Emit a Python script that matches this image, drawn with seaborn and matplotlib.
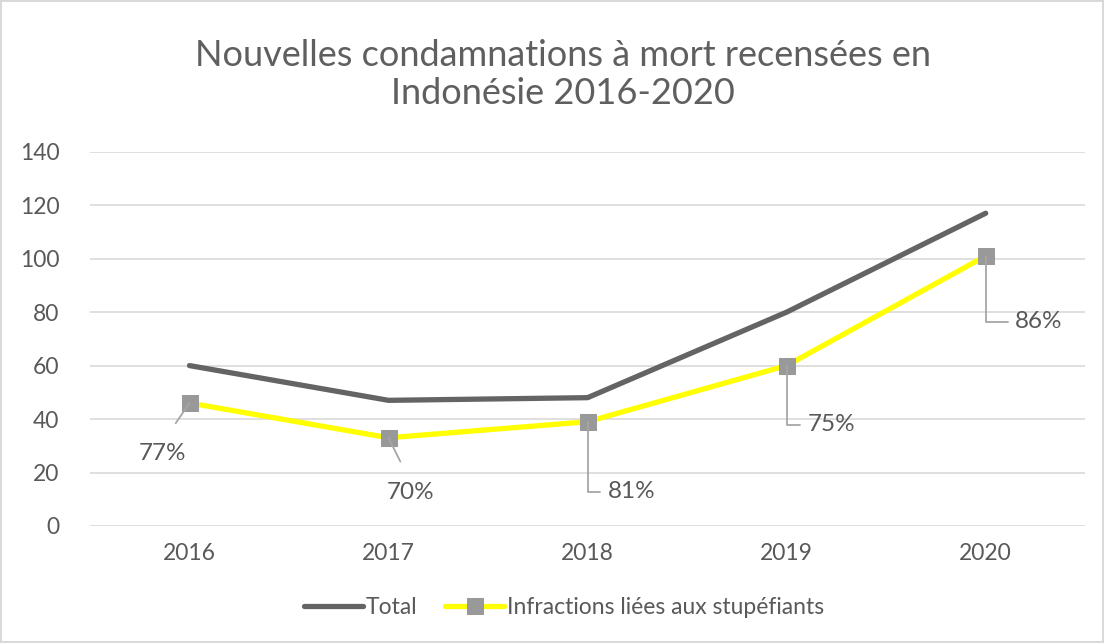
import matplotlib
matplotlib.use("Agg")
import matplotlib.pyplot as plt
import seaborn as sns
import pandas as pd

years = ["2016", "2017", "2018", "2019", "2020"]
total = [60, 47, 48, 80, 117]
drugs = [46, 33, 39, 60, 101]
pct_labels = ["77%", "70%", "81%", "75%", "86%"]
yticks = [0, 20, 40, 60, 80, 100, 120, 140]

sns.set_theme(style="white")
plt.rcParams["font.family"] = ["Lato", "DejaVu Sans"]

df = pd.DataFrame({"x": list(range(len(years))), "Total": total,
                   "Infractions liées aux stupéfiants": drugs})

fig = plt.figure(figsize=(11.04, 6.43), dpi=100)
fig.patch.set_edgecolor("#d9d9d9")
fig.patch.set_linewidth(1.5)
ax = fig.add_axes([0.0815, 0.182, 0.9015, 0.582])

sns.lineplot(data=df, x="x", y="Total", ax=ax, color="#646464", linewidth=3.8,
             label="Total")
sns.lineplot(data=df, x="x", y="Infractions liées aux stupéfiants", ax=ax,
             color="#ffff00", linewidth=3.8, marker="s", markersize=12,
             markerfacecolor="#999999", markeredgecolor="#999999",
             label="Infractions liées aux stupéfiants", zorder=3)

ax.set_xlim(-0.5, len(years) - 0.5)
ax.set_ylim(0, 140)
ax.set_xticks(range(len(years)))
ax.set_xticklabels(years)
ax.set_yticks(yticks)
ax.set_xlabel("")
ax.set_ylabel("")
ax.grid(axis="y", color="#d9d9d9", linewidth=1.2)
ax.set_axisbelow(True)
for s in ax.spines.values():
    s.set_visible(False)
ax.tick_params(axis="both", colors="#595959", labelsize=16.5, length=0, pad=12)
ax.tick_params(axis="y", pad=22)

# data label offsets in pixels (text anchor) and connector styles
offsets = [(-27, -50), (22, -55), (44, -70), (45, -59), (53, -66)]
lc = "#a6a6a6"
for i, (lab, off) in enumerate(zip(pct_labels, offsets)):
    if i < 2:
        ax.annotate(lab, xy=(i, drugs[i]), xytext=off, textcoords="offset pixels",
                    ha="center", va="center", fontsize=17.5, color="#595959",
                    arrowprops=dict(arrowstyle="-", color=lc, lw=1.3,
                                    shrinkA=14, shrinkB=0, relpos=(0.5, 1.0)))
    else:
        ax.annotate(lab, xy=(i, drugs[i]), xytext=off, textcoords="offset pixels",
                    ha="center", va="center", fontsize=17.5, color="#595959",
                    arrowprops=dict(arrowstyle="-", color=lc, lw=1.3,
                                    shrinkA=3, shrinkB=0, relpos=(0.0, 0.5),
                                    connectionstyle="angle,angleA=180,angleB=90,rad=0"))

ax.legend(loc="upper center", bbox_to_anchor=(0.476, -0.135), ncol=2, frameon=False,
          fontsize=16.5, labelcolor="#595959", handlelength=2.6, handletextpad=0.1,
          columnspacing=1.2)

fig.suptitle("Nouvelles condamnations à mort recensées en\nIndonésie 2016-2020",
             x=0.51, y=0.94, fontsize=26, color="#5f5f5f", fontweight="normal",
             linespacing=1.2)

fig.savefig("out.png", dpi=100)
